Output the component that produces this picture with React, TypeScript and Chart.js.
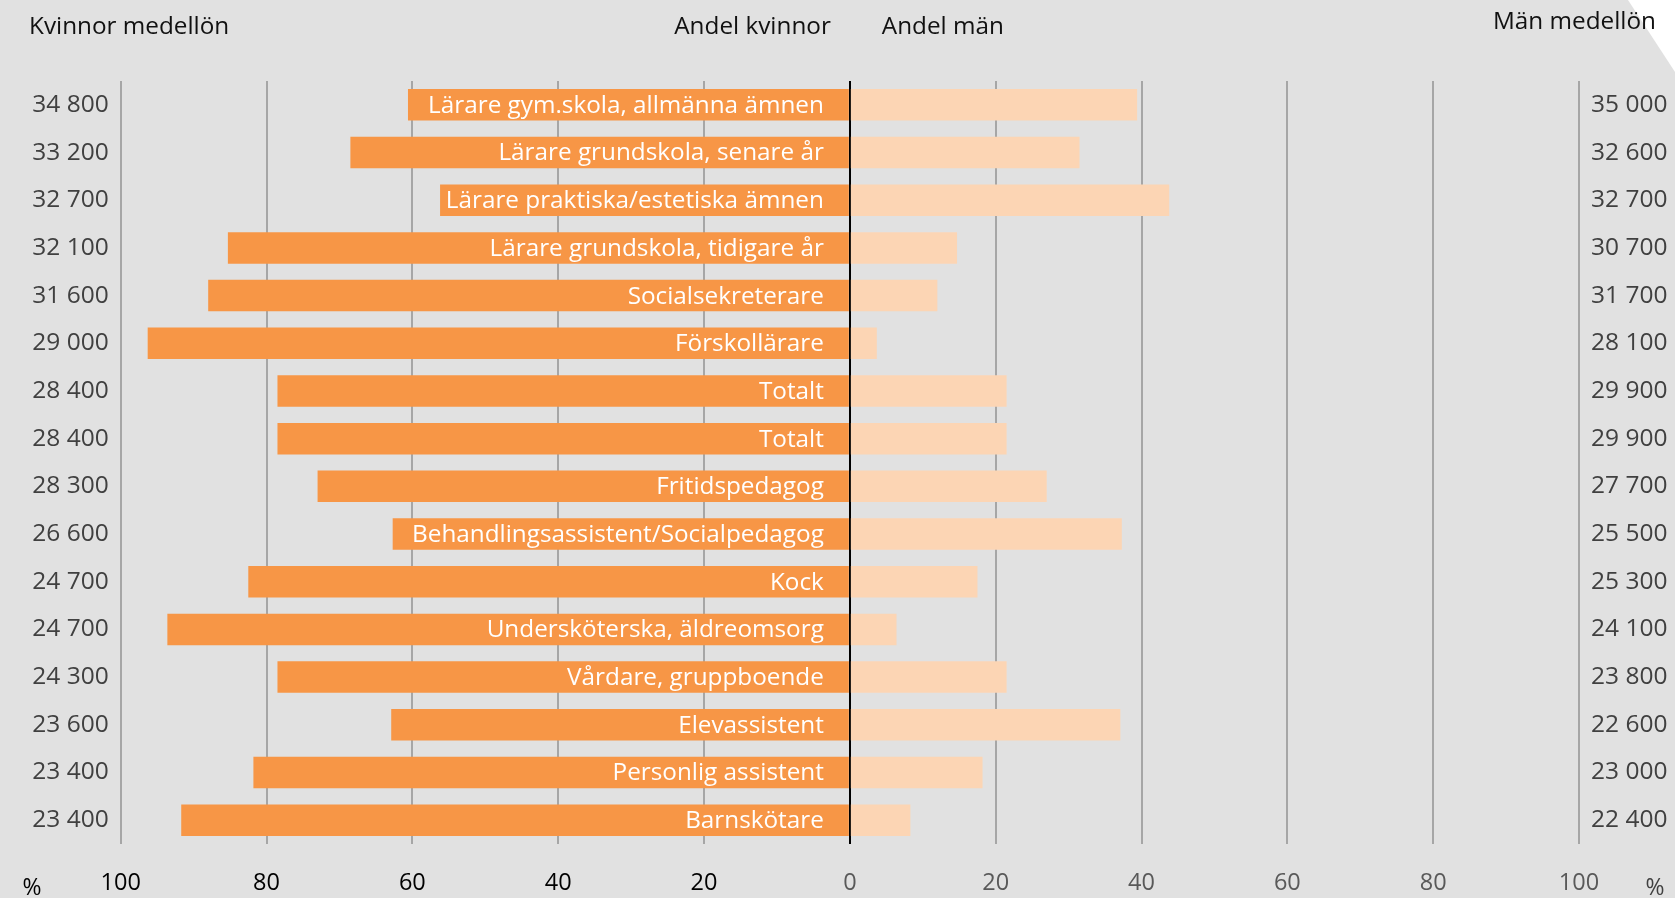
import React, { useEffect, useRef } from "react";
import { Chart, registerables } from "chart.js";

Chart.register(...registerables);

const categories = [
  "Lärare gym.skola, allmänna ämnen",
  "Lärare grundskola, senare år",
  "Lärare praktiska/estetiska ämnen",
  "Lärare grundskola, tidigare år",
  "Socialsekreterare",
  "Förskollärare",
  "Totalt",
  "Totalt",
  "Fritidspedagog",
  "Behandlingsassistent/Socialpedagog",
  "Kock",
  "Undersköterska, äldreomsorg",
  "Vårdare, gruppboende",
  "Elevassistent",
  "Personlig assistent",
  "Barnskötare",
];

const womenShare = [60.6, 68.5, 56.2, 85.3, 88.0, 96.3, 78.5, 78.5, 73.0, 62.7, 82.5, 93.6, 78.5, 62.9, 81.8, 91.7];
const menShare = [39.4, 31.5, 43.8, 14.7, 12.0, 3.7, 21.5, 21.5, 27.0, 37.3, 17.5, 6.4, 21.5, 37.1, 18.2, 8.3];

const womenSalary = [34800, 33200, 32700, 32100, 31600, 29000, 28400, 28400, 28300, 26600, 24700, 24700, 24300, 23600, 23400, 23400];
const menSalary = [35000, 32600, 32700, 30700, 31700, 28100, 29900, 29900, 27700, 25500, 25300, 24100, 23800, 22600, 23000, 22400];

const headerLeft = "Kvinnor medellön";
const headerWomen = "Andel kvinnor";
const headerMen = "Andel män";
const headerRight = "Män medellön";

const FONT = "'Open Sans', 'Noto Sans', sans-serif";

const fmt = (n: number) => {
  const s = String(n);
  return s.slice(0, s.length - 3) + " " + s.slice(s.length - 3);
};

const W = 1675;
const H = 898;

export default function App() {
  const ref = useRef<HTMLCanvasElement | null>(null);

  useEffect(() => {
    document.body.style.margin = "0";
    const canvas = ref.current;
    if (!canvas) return;

    const bgPlugin = {
      id: "bg",
      beforeDraw(chart: any) {
        const ctx = chart.ctx;
        ctx.save();
        ctx.fillStyle = "#e1e1e1";
        ctx.fillRect(0, 0, chart.width, chart.height);
        ctx.fillStyle = "#ffffff";
        ctx.beginPath();
        ctx.moveTo(1628, 0);
        ctx.lineTo(chart.width, 0);
        ctx.lineTo(chart.width, 72);
        ctx.closePath();
        ctx.fill();
        ctx.restore();
      },
    };

    const textPlugin = {
      id: "texts",
      afterDatasetsDraw(chart: any) {
        const ctx = chart.ctx;
        const xs = chart.scales.x;
        const ys = chart.scales.y;
        const zero = xs.getPixelForValue(0);
        ctx.save();
        ctx.font = `24.3px ${FONT}`;
        ctx.fillStyle = "#ffffff";
        ctx.textAlign = "right";
        ctx.textBaseline = "middle";
        categories.forEach((c, i) => {
          ctx.fillText(c, zero - 26, ys.getPixelForValue(i) + 1);
        });
        ctx.restore();
      },
      afterDraw(chart: any) {
        const ctx = chart.ctx;
        const xs = chart.scales.x;
        const zero = xs.getPixelForValue(0);
        ctx.save();
        ctx.font = `24.3px ${FONT}`;
        ctx.fillStyle = "#111111";
        ctx.textBaseline = "middle";
        ctx.textAlign = "left";
        ctx.fillText(headerLeft, 29, 27);
        ctx.textAlign = "right";
        ctx.fillText(headerWomen, zero - 19, 27);
        ctx.textAlign = "left";
        ctx.fillText(headerMen, zero + 32, 27);
        ctx.fillText(headerRight, 1493, 22);
        ctx.font = `23px ${FONT}`;
        ctx.textAlign = "center";
        ctx.fillStyle = "#000000";
        ctx.fillText("%", 32, 888);
        ctx.fillStyle = "#404040";
        ctx.fillText("%", 1655, 888);
        ctx.restore();
      },
    };

    const chart = new Chart(canvas, {
      type: "bar",
      data: {
        labels: categories,
        datasets: [
          {
            label: "Kvinnor",
            data: womenShare.map((v) => -v),
            backgroundColor: "#f79646",
            borderWidth: 0,
            barPercentage: 0.66,
            categoryPercentage: 1,
            yAxisID: "y",
          },
          {
            label: "Män",
            data: menShare,
            backgroundColor: "#fcd5b4",
            borderWidth: 0,
            barPercentage: 0.66,
            categoryPercentage: 1,
            yAxisID: "y",
          },
        ],
      },
      options: {
        indexAxis: "y",
        responsive: false,
        maintainAspectRatio: false,
        animation: false,
        layout: { padding: { top: 81, left: 0, right: 0, bottom: 0 } },
        plugins: {
          legend: { display: false },
          tooltip: { enabled: false },
          title: { display: false },
        },
        scales: {
          x: {
            type: "linear",
            position: "bottom",
            min: -100,
            max: 100,
            stacked: true,
            border: { display: false },
            grid: {
              color: (c: any) => (c.tick && c.tick.value === 0 ? "#000000" : "#a6a6a6"),
              lineWidth: 2,
              drawTicks: false,
            },
            ticks: {
              stepSize: 20,
              padding: 25,
              font: { family: FONT, size: 23.5 },
              color: (c: any) => (c.tick && c.tick.value < 0 ? "#000000" : "#595959"),
              callback: (v: any) => String(Math.abs(Number(v))),
              maxRotation: 0,
            },
            afterFit: (s: any) => {
              s.height = 54;
            },
          },
          y: {
            type: "category",
            position: "left",
            stacked: true,
            offset: true,
            border: { display: false },
            grid: { display: false, drawTicks: false },
            ticks: {
              padding: 12,
              font: { family: FONT, size: 24.5 },
              color: "#404040",
              callback: (_v: any, i: number) => fmt(womenSalary[i]),
            },
            afterFit: (s: any) => {
              s.width = 120.7;
            },
          },
          y2: {
            type: "category",
            position: "right",
            offset: true,
            labels: categories,
            border: { display: false },
            grid: { display: false, drawTicks: false },
            ticks: {
              padding: 12,
              font: { family: FONT, size: 24.5 },
              color: "#404040",
              callback: (_v: any, i: number) => fmt(menSalary[i]),
            },
            afterFit: (s: any) => {
              s.width = 96;
            },
          },
        },
      },
      plugins: [bgPlugin, textPlugin],
    } as any);

    return () => chart.destroy();
  }, []);

  return (
    <div style={{ width: W, height: H }}>
      <canvas ref={ref} width={W} height={H} style={{ display: "block", width: W, height: H }} />
    </div>
  );
}
